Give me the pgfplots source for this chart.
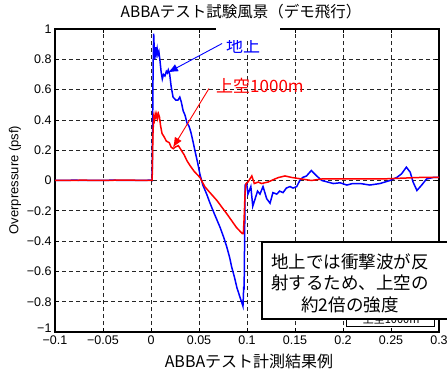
\documentclass[border=0pt]{standalone}
\usepackage{pgfplots}
\pgfplotsset{compat=1.18}
\usetikzlibrary{arrows.meta}
\usepackage{fontspec}
\setmainfont{Liberation Sans}
\newfontfamily\jp{Noto Sans CJK JP}
\begin{document}
\begin{tikzpicture}
\path[use as bounding box] (0pt,0pt) rectangle (447pt,378pt);
\begin{axis}[
  at={(55pt,46pt)}, anchor=south west,
  scale only axis, width=384pt, height=303pt,
  xmin=-0.1, xmax=0.3, ymin=-1, ymax=1,
  xtick={-0.1,-0.05,0,0.05,0.1,0.15,0.2,0.25,0.3},
  xticklabels={−0.1,−0.05,0,0.05,0.1,0.15,0.2,0.25,0.3},
  ytick={-1,-0.8,-0.6,-0.4,-0.2,0,0.2,0.4,0.6,0.8,1},
  yticklabels={\raisebox{-0.5pt}[0pt][0pt]{−1},−0.8,−0.6,−0.4,−0.2,0,0.2,0.4,0.6,0.8,1},
  tick label style={font=\fontsize{12.5}{12.5}\selectfont},
  tick align=inside, major tick length=4pt,
  tick style={black, line width=0.6pt},
  axis line style={black, line width=1.3pt},
  grid=major,
  major grid style={black!85, line width=0.6pt, dash pattern=on 4pt off 3pt},
]
\addplot[blue, line width=1.5pt] coordinates {
(-0.1,0) (-0.08,0.002) (-0.06,0) (-0.04,0.002) (-0.02,0) (0.0,0.002) (0.0012,0.0)
(0.0022,0.75) (0.0028,0.97) (0.0034,0.86) (0.0040,0.80) (0.0048,0.88) (0.0056,0.84)
(0.0064,0.87) (0.0072,0.83) (0.0082,0.85) (0.0092,0.80) (0.0105,0.72) (0.0118,0.67)
(0.0130,0.70) (0.0145,0.69) (0.0160,0.72) (0.0170,0.71) (0.0180,0.73) (0.0195,0.70)
(0.0210,0.62) (0.0230,0.55) (0.0260,0.53) (0.0280,0.53) (0.0300,0.55) (0.0315,0.52)
(0.0335,0.46) (0.0355,0.43) (0.0375,0.38) (0.0395,0.36) (0.0415,0.32) (0.0440,0.25)
(0.0460,0.19) (0.0485,0.12) (0.0510,0.04) (0.0540,-0.03) (0.0580,-0.09) (0.0615,-0.15)
(0.0660,-0.22) (0.0720,-0.31) (0.0760,-0.38) (0.0790,-0.44) (0.0820,-0.51) (0.0840,-0.57)
(0.0870,-0.64) (0.0896,-0.71) (0.0927,-0.77) (0.0958,-0.83) (0.0966,-0.70) (0.0970,-0.72)
(0.0975,-0.40) (0.0980,-0.03) (0.0997,-0.02) (0.1010,-0.09) (0.1040,-0.04) (0.1060,-0.17)
(0.1090,-0.11) (0.1110,-0.07) (0.1135,-0.09) (0.1167,-0.04) (0.1205,-0.12) (0.1240,-0.15)
(0.1270,-0.08) (0.1310,-0.09) (0.1340,-0.07) (0.1375,-0.08) (0.1410,-0.05) (0.1448,-0.04)
(0.1480,-0.05) (0.1518,-0.04) (0.1550,0.0) (0.1580,0.02) (0.1620,0.03) (0.1670,0.066)
(0.1726,0.03) (0.1780,0.0) (0.1840,-0.01) (0.1900,-0.02) (0.1970,-0.015) (0.2040,-0.03)
(0.2100,-0.02) (0.2180,-0.02) (0.2280,-0.03) (0.2385,-0.02) (0.2490,0.0) (0.2560,0.02)
(0.2610,0.044) (0.2660,0.088) (0.2700,0.055) (0.2730,-0.01) (0.2770,-0.066) (0.2820,-0.03)
(0.2870,0.01) (0.2940,0.02) (0.3000,0.02)
};
\addplot[red, line width=1.5pt] coordinates {
(-0.1,0.0) (-0.07,0.002) (-0.05,0.0) (-0.03,0.003) (0.0,0.0) (0.0012,0.0)
(0.0020,0.30) (0.0028,0.42) (0.0036,0.40) (0.0044,0.44) (0.0052,0.42) (0.0060,0.44)
(0.0068,0.41) (0.0078,0.44) (0.0088,0.42) (0.0100,0.36) (0.0115,0.31) (0.0135,0.29)
(0.0160,0.26) (0.0190,0.25) (0.0210,0.22) (0.0232,0.21) (0.0250,0.22) (0.0285,0.23)
(0.0305,0.21) (0.0345,0.17) (0.0375,0.13) (0.0405,0.10) (0.0450,0.06) (0.0510,0.02)
(0.0560,-0.04) (0.0600,-0.07) (0.0684,-0.13) (0.0790,-0.22) (0.0890,-0.31) (0.0950,-0.35)
(0.0962,-0.35) (0.0970,-0.25) (0.0980,-0.08) (0.0990,-0.02) (0.1010,-0.01) (0.1030,0.01)
(0.1050,0.03) (0.1076,-0.02) (0.1118,-0.01) (0.1150,-0.02) (0.1220,-0.01) (0.1290,0.01)
(0.1330,0.02) (0.1396,0.03) (0.1466,0.02) (0.1570,0.01) (0.1670,0.0) (0.1780,0.01)
(0.1880,0.01) (0.2000,0.01) (0.2200,0.01) (0.2400,0.01) (0.2600,0.015) (0.2800,0.02)
(0.3000,0.02)
};
\draw[blue, line width=0.9pt, -{Latex[length=10pt,width=8pt]}] (axis cs:0.0740,0.904) -- (axis cs:0.0177,0.713);
\draw[red, line width=0.9pt, -{Latex[length=10pt,width=8pt]}] (axis cs:0.0604,0.607) -- (axis cs:0.0229,0.218);
\node[blue, font=\jp\fontsize{17}{17}\selectfont] at (axis cs:0.096,0.89) {地上};
\node[red, font=\jp\fontsize{17}{17}\selectfont] at (axis cs:0.1135,0.627) {上空1000m};
\end{axis}
\fill[white] (216pt,338pt) rectangle (280pt,358pt);
\node[font=\jp\fontsize{15.5}{15.5}\selectfont] at (241pt,366pt) {ABBAテスト試験風景（デモ飛行）};
\node[font=\jp\fontsize{16}{16}\selectfont] at (249pt,17pt) {ABBAテスト計測結果例};
\node[rotate=90, font=\fontsize{13}{13}\selectfont] at (15pt,198pt) {Overpressure (psf)};
% legend box partially hidden
\draw[black, fill=white, line width=0.8pt] (346pt,52pt) rectangle (434pt,90pt);
\node[anchor=east, font=\jp\fontsize{11}{11}\selectfont] at (423pt,59pt) {上空1000m};
% annotation box
\draw[black, fill=white, line width=1.2pt] (262pt,59pt) rectangle (452pt,136pt);
\node[align=center, font=\jp\fontsize{17.5}{21.5}\selectfont] at (350pt,95pt) {地上では衝撃波が反\\射するため、上空の\\約2倍の強度};
\end{tikzpicture}
\end{document}
